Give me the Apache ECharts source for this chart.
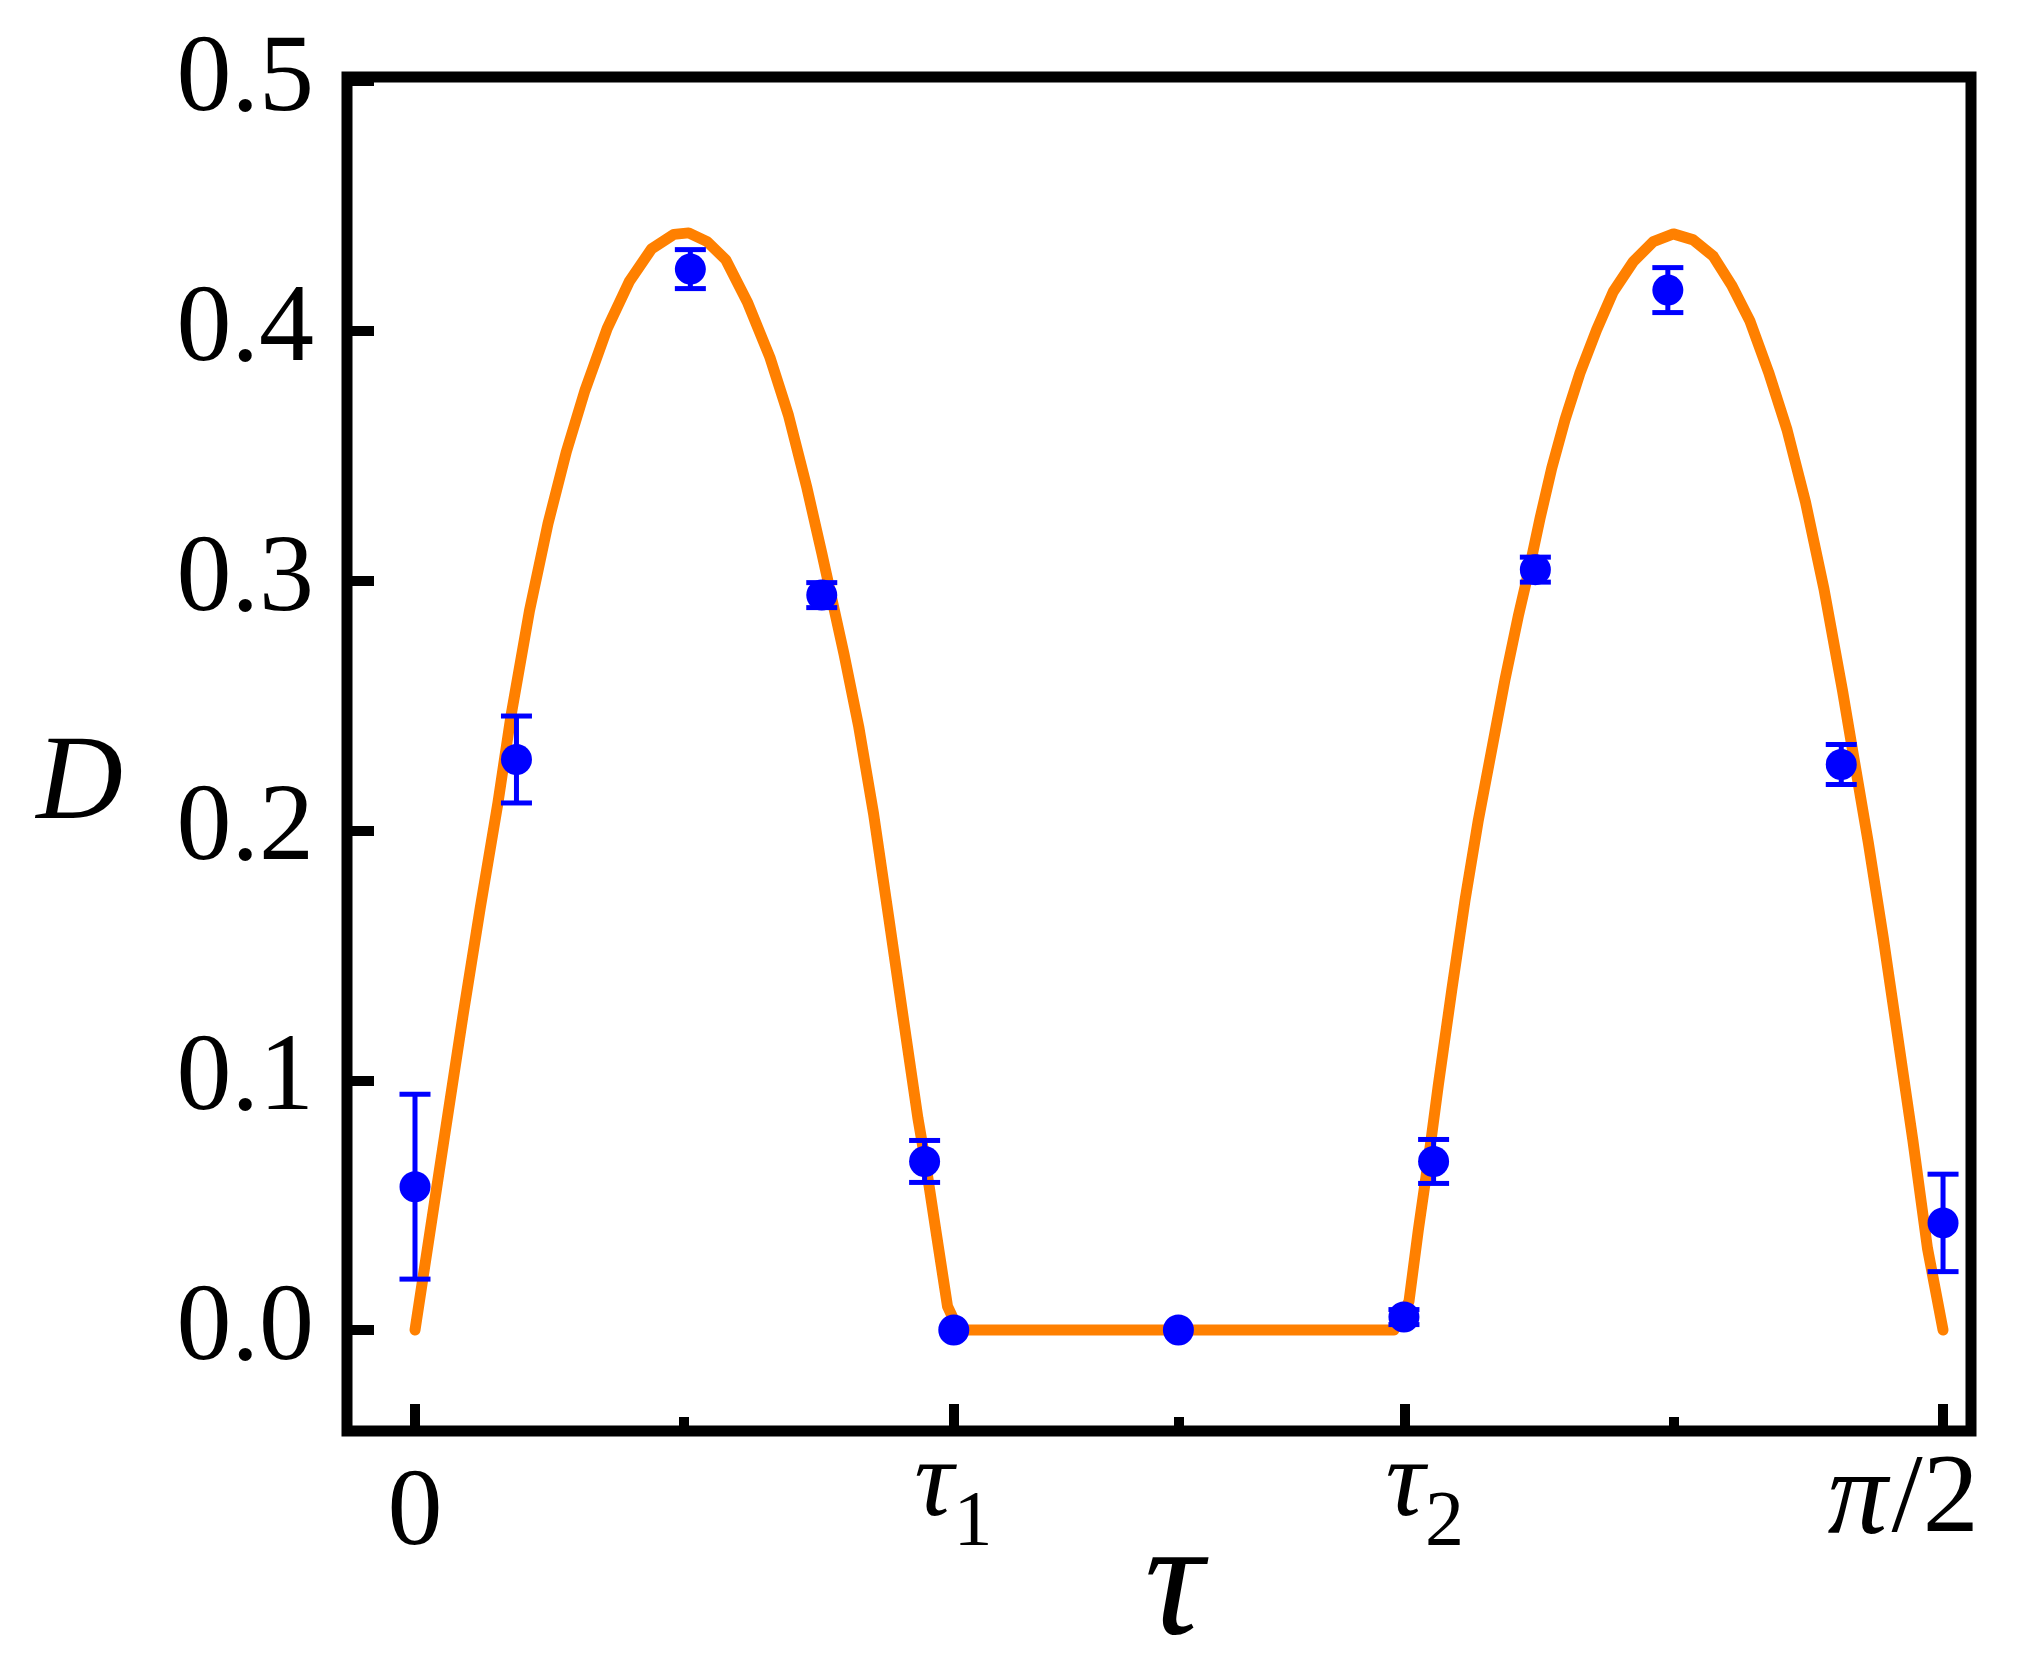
<!DOCTYPE html>
<html style="height: 100%">

<head>
    <meta charset="utf-8">
    <script src="https://cdn.jsdelivr.net/npm/echarts@6.0.0/dist/echarts.min.js"></script>
</head>

<body style="height: 100%; margin: 0; background: #fff">
    <div id="chart" style="width: 2026px; height: 1670px"></div>
    <script type="text/javascript">
        // tau is given as a fraction of pi/2 (0 .. 1)
        var curveTau = [0, 0.0096, 0.0197, 0.0313, 0.0427, 0.0543, 0.0628, 0.0749, 0.0870, 0.0991,
            0.1113, 0.1258, 0.1403, 0.1548, 0.1694, 0.1791, 0.1912, 0.2033, 0.2178, 0.2323,
            0.2444, 0.2565, 0.2662, 0.2735, 0.2808, 0.2904, 0.3001, 0.3098, 0.3194, 0.3291,
            0.3340, 0.3412, 0.3485, 0.3558,
            0.6407, 0.6505, 0.6566, 0.6632, 0.6697, 0.6785, 0.6872, 0.6959, 0.7046, 0.7133,
            0.7221, 0.7293, 0.7363, 0.7439, 0.7526, 0.7624, 0.7733, 0.7842, 0.7973, 0.8104,
            0.8235, 0.8366, 0.8497, 0.8616, 0.8737, 0.8858, 0.8979, 0.9100, 0.9221, 0.9342,
            0.9414, 0.9511, 0.9608, 0.9705, 0.9802, 0.9898, 1.0];
        var curveD = [0, 0.0385, 0.0791, 0.1255, 0.1690, 0.2111, 0.2458, 0.2879, 0.3227, 0.3517,
            0.3763, 0.4010, 0.4198, 0.4328, 0.4386, 0.4392, 0.4357, 0.4285, 0.4111, 0.3893,
            0.3662, 0.3371, 0.3111, 0.2908, 0.2705, 0.2415, 0.2067, 0.1661, 0.1255, 0.0849,
            0.0675, 0.0385, 0.0095, 0,
            0, 0.0115, 0.0400, 0.0681, 0.0981, 0.1361, 0.1722, 0.2042, 0.2322, 0.2603,
            0.2860, 0.3050, 0.3250, 0.3450, 0.3644, 0.3831, 0.4004, 0.4157, 0.4277, 0.4357,
            0.4388, 0.4364, 0.4298, 0.4183, 0.4038, 0.3835, 0.3604, 0.3314, 0.2966, 0.2560,
            0.2299, 0.1951, 0.1574, 0.1168, 0.0762, 0.0328, 0];

        var pointTau = [0, 0.0664, 0.1802, 0.2662, 0.3335, 0.3526, 0.4996, 0.6472, 0.6666, 0.7332, 0.8199, 0.9334, 1.0];
        var pointD = [0.0574, 0.2284, 0.4247, 0.2942, 0.0675, 0, 0, 0.0052, 0.0675, 0.3044, 0.4163, 0.2264, 0.0429];
        var pointErr = [0.037, 0.0174, 0.0078, 0.005, 0.0084, 0, 0, 0.003, 0.0088, 0.005, 0.009, 0.008, 0.0195];

        var xMajorTicks = [0, 0.3523, 0.6477, 1];
        var xMajorLabels = ['0', 'τ1', 'τ2', 'π/2'];
        var xMinorTicks = [0.176, 0.5, 0.824];
        var yTicks = [0, 0.1, 0.2, 0.3, 0.4, 0.5];

        var serif = 'Liberation Serif';

        function richLabel(value) {
            var i = xMajorTicks.findIndex(function (t) { return Math.abs(t - value) < 1e-6; });
            var s = i < 0 ? '' : xMajorLabels[i];
            if (s.charAt(0) === 'τ') {
                return (i === 2 ? '{t2|τ}' : '{t|τ}') + '{s|' + s.slice(1) + '}';
            }
            if (s.charAt(0) === 'π') return '{p|π}{q|' + s.slice(1) + '}';
            return '{z|' + s + '}';
        }

        var curve = curveTau.map(function (t, i) { return [t, curveD[i]]; });
        var points = pointTau.map(function (t, i) { return [t, pointD[i], pointErr[i]]; });

        var myChart = echarts.init(document.getElementById('chart'));
        myChart.setOption({
            animation: false,
            backgroundColor: '#fff',
            grid: {
                left: 347, right: 55, top: 77, bottom: 239,
                outerBoundsMode: 'none', containLabel: false,
                show: true, borderColor: '#000', borderWidth: 11
            },
            xAxis: [{
                type: 'value', min: -0.0445, max: 1.0183,
                splitLine: { show: false },
                axisLine: { show: false, onZero: false },
                axisTick: {
                    inside: true, length: 27, customValues: xMajorTicks,
                    lineStyle: { color: '#000', width: 10 }
                },
                axisLabel: {
                    customValues: xMajorTicks, margin: 0, color: '#000',
                    formatter: richLabel,
                    rich: {
                        z: { fontFamily: serif, fontSize: 110, color: '#000', verticalAlign: 'top', padding: [29, 0, 0, 0] },
                        t: { fontFamily: serif, fontSize: 110, fontStyle: 'italic', color: '#000', verticalAlign: 'top' },
                        t2: { fontFamily: serif, fontSize: 110, fontStyle: 'italic', color: '#000', verticalAlign: 'top', padding: [0, 0, 0, 40] },
                        s: { fontFamily: serif, fontSize: 78, color: '#000', verticalAlign: 'top', padding: [54, 0, 0, 0] },
                        p: { fontFamily: serif, fontSize: 120, fontStyle: 'italic', color: '#000', verticalAlign: 'top', padding: [10, 4, 0, 0] },
                        q: { fontFamily: serif, fontSize: 112, color: '#000', verticalAlign: 'top', padding: [15, 80, 0, 0] }
                    }
                },
                name: 'τ', nameLocation: 'middle', nameGap: 76, nameMoveOverlap: false,
                nameTextStyle: { fontFamily: serif, fontSize: 165, fontStyle: 'italic', color: '#000', padding: [0, 0, 0, 30] }
            }, {
                type: 'value', min: -0.0445, max: 1.0183, position: 'bottom',
                splitLine: { show: false },
                axisLine: { show: false, onZero: false },
                axisLabel: { show: false },
                axisTick: {
                    inside: true, length: 14, customValues: xMinorTicks,
                    lineStyle: { color: '#000', width: 10 }
                }
            }],
            yAxis: {
                type: 'value', min: -0.0404, max: 0.5016,
                splitLine: { show: false },
                axisLine: { show: false, onZero: false },
                axisTick: {
                    inside: true, length: 27, customValues: yTicks,
                    lineStyle: { color: '#000', width: 10 }
                },
                axisLabel: {
                    customValues: yTicks, margin: 33, color: '#000',
                    fontFamily: serif, fontSize: 110,
                    formatter: function (v) { return v.toFixed(1); }
                },
                name: 'D', nameLocation: 'middle', nameRotate: 0, nameGap: 224, nameMoveOverlap: false,
                nameTextStyle: {
                    fontFamily: serif, fontSize: 120, fontStyle: 'italic', color: '#000',
                    verticalAlign: 'top', lineHeight: 64
                }
            },
            series: [{
                type: 'line',
                data: curve,
                showSymbol: false,
                smooth: false,
                lineStyle: { color: '#FF8000', width: 11, cap: 'round', join: 'round' },
                z: 2
            }, {
                type: 'custom',
                data: points,
                z: 3,
                renderItem: function (params, api) {
                    var x = api.value(0), y = api.value(1), e = api.value(2);
                    if (!(e > 0)) return null;
                    var top = api.coord([x, y + e]);
                    var bot = api.coord([x, y - e]);
                    var half = 15.5;
                    var st = { stroke: '#0000FF', lineWidth: 5 };
                    return {
                        type: 'group',
                        children: [
                            { type: 'line', shape: { x1: top[0], y1: top[1], x2: bot[0], y2: bot[1] }, style: st },
                            { type: 'line', shape: { x1: top[0] - half, y1: top[1], x2: top[0] + half, y2: top[1] }, style: st },
                            { type: 'line', shape: { x1: bot[0] - half, y1: bot[1], x2: bot[0] + half, y2: bot[1] }, style: st }
                        ]
                    };
                }
            }, {
                type: 'scatter',
                data: points,
                symbolSize: 31,
                itemStyle: { color: '#0000FF', opacity: 1 },
                z: 4
            }]
        });
    </script>
</body>

</html>
